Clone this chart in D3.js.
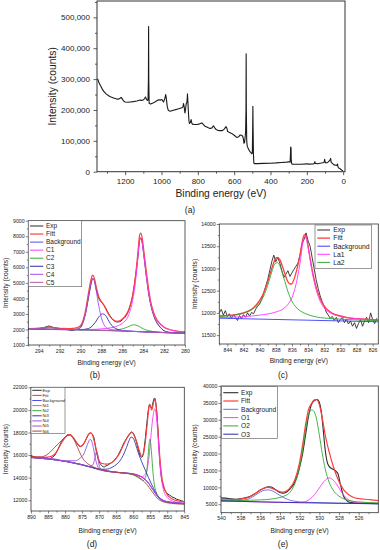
<!DOCTYPE html>
<html><head><meta charset="utf-8">
<script src="https://cdn.jsdelivr.net/npm/d3@7"></script>
<style>body{margin:0;background:#fff;}svg{display:block;}</style>
</head><body><svg id="c" width="380" height="550"></svg>
<script>
// ---------------- DATA ----------------
// (a) survey spectrum [binding energy eV, counts]
const surveyData = [[1352,301000],[1345,290000],[1337,280000],[1328,270000],[1319,261000],[1305,252000],[1291,246000],[1278,242000],[1264,239000],[1250,236000],[1236,235000],[1228,238000],[1222,241000],[1216,236000],[1209,229000],[1200,226000],[1186,225000],[1172,226000],[1155,227000],[1136,229000],[1117,232000],[1108,231000],[1099,233000],[1092,238000],[1088,242000],[1084,236000],[1078,231000],[1074,232000],[1072,300000],[1071,470000],[1070,300000],[1068,222000],[1060,219000],[1044,223000],[1030,228000],[1016,233000],[1005,232000],[998,234000],[989,226000],[982,236000],[977,250000],[974,240000],[968,210000],[962,198000],[952,196000],[935,199000],[916,202000],[900,205000],[888,207000],[882,210000],[879,221000],[875,210000],[871,190000],[868,200000],[864,220000],[860,225000],[857,252000],[855,230000],[852,195000],[849,165000],[846,156000],[841,160000],[837,169000],[833,158000],[830,154000],[818,153000],[806,153000],[790,155000],[778,158000],[770,153000],[760,147000],[745,143000],[733,140000],[722,142000],[714,149000],[708,143000],[700,137000],[690,134000],[678,133000],[665,133000],[655,138000],[645,146000],[640,141000],[636,130000],[625,127000],[614,124000],[600,118000],[586,111000],[575,113000],[568,119000],[560,118000],[553,115000],[549,105000],[546,92000],[543,95000],[540,110000],[537,130000],[535,200000],[534,382000],[533,200000],[531,100000],[528,82000],[520,72000],[513,65000],[508,62000],[504,58000],[500,60000],[498,150000],[497,212000],[496,150000],[494,60000],[492,30000],[490,26000],[470,26000],[440,27000],[400,27500],[370,28500],[340,30000],[311,31000],[300,32000],[292,31000],[290,60000],[289,80000],[288,50000],[287,78000],[286,40000],[284,27000],[280,24000],[260,24000],[230,24000],[200,25500],[190,24500],[165,25000],[158,27000],[156,33000],[154,27000],[140,26000],[120,28000],[105,30000],[102,40000],[100,33000],[95,28000],[85,30000],[78,34000],[72,38000],[69,43000],[66,30000],[60,27000],[50,22000],[40,21000],[34,20000],[31,25000],[29,16000],[25,12000],[18,10000],[12,7000],[8,5000],[4,4000],[1,3000]];
const aXTicks = [1200,1000,800,600,400,200,0];
const aXMinor = [1300,1100,900,700,500,300,100];
const aYTicks = [0,100000,200000,300000,400000,500000];
const aYMinor = [50000,150000,250000,350000,450000,550000];

// (b) C 1s
const bExp = [[295,2050],[294.5,2060],[294,2070],[293.5,2120],[293.25,2180],[293,2220],[292.75,2160],[292.5,2110],[292,2060],[291.5,2020],[291,1960],[290.75,1940],[290.5,2000],[290.25,2030],[290,2150],[289.75,2500],[289.5,3100],[289.25,4000],[289,4900],[288.85,5250],[288.7,5200],[288.5,4600],[288.25,4000],[288,3750],[287.75,3550],[287.5,3250],[287.25,2950],[287,2700],[286.75,2550],[286.5,2480],[286.25,2500],[286,2620],[285.75,2780],[285.5,3050],[285.25,3500],[285,4200],[284.75,5300],[284.5,6700],[284.35,7700],[284.25,7900],[284.1,7600],[284,7100],[283.75,5700],[283.5,4400],[283.25,3500],[283,2900],[282.75,2500],[282.5,2250],[282.25,2050],[282,1920],[281.5,1820],[281,1790],[280.5,1770],[280,1760]];
const bFit = [[295,2060],[294,2070],[293.5,2100],[293,2170],[292.5,2120],[292,2070],[291,2060],[290.5,2090],[290,2250],[289.75,2600],[289.5,3300],[289.25,4300],[289,5200],[288.85,5500],[288.7,5350],[288.5,4750],[288.25,4100],[288,3800],[287.75,3550],[287.5,3200],[287.25,2900],[287,2700],[286.75,2570],[286.5,2530],[286.25,2560],[286,2680],[285.75,2850],[285.5,3100],[285.25,3550],[285,4250],[284.75,5400],[284.5,7000],[284.35,8050],[284.25,8200],[284.1,7900],[284,7400],[283.75,6000],[283.5,4700],[283.25,3700],[283,3100],[282.75,2700],[282.5,2450],[282,2150],[281.5,2000],[281,1920],[280.5,1870],[280,1840]];
const bBg = [[295,2050],[291,1990],[288,1940],[285,1880],[282,1800],[280,1760]];
const bC1 = [[295,2060],[291,2000],[289,2000],[288,2040],[287,2120],[286.5,2220],[286,2400],[285.5,2780],[285.25,3200],[285,3900],[284.75,5000],[284.5,6700],[284.35,7750],[284.25,7850],[284.1,7600],[284,7100],[283.75,5700],[283.5,4450],[283.25,3550],[283,2980],[282.75,2620],[282.5,2400],[282,2130],[281.5,1990],[281,1910],[280.5,1860],[280,1830]];
const bC2 = [[295,2045],[290,1975],[288,1945],[287,1950],[286.5,1980],[286,2040],[285.5,2160],[285.2,2260],[284.9,2300],[284.6,2260],[284.3,2160],[284,2040],[283.5,1930],[283,1860],[282,1810],[280,1765]];
const bC3 = [[295,2040],[291,1985],[290,1985],[289.5,2020],[289,2150],[288.6,2450],[288.2,2850],[287.9,3000],[287.6,2900],[287.3,2550],[287,2250],[286.5,2020],[286,1930],[285.5,1890],[284,1850],[282,1800],[280,1755]];
const bC4 = [[295,2040],[291,1980],[290.5,2000],[290,2100],[289.75,2450],[289.5,3100],[289.25,4100],[289,5000],[288.85,5300],[288.7,5150],[288.5,4500],[288.25,3500],[288,2750],[287.75,2300],[287.5,2100],[287,1980],[286.5,1940],[285,1880],[282,1800],[280,1758]];
const bC5 = [[295,2055],[294.5,2055],[294,2070],[293.6,2100],[293.3,2140],[293,2140],[292.7,2100],[292.3,2050],[292,2020],[291,1995],[288,1945],[285,1875],[282,1795],[280,1755]];
const bXTicks = [294,292,290,288,286,284,282,280];
const bXMinor = [295,293,291,289,287,285,283,281];
const bYTicks = [1000,2000,3000,4000,5000,6000,7000,8000,9000];
const bYMinor = [1500,2500,3500,4500,5500,6500,7500,8500];

// (c) La 3d
const cExp = [[845,12000],[844.75,12080],[844.5,11950],[844.25,12050],[844,11920],[843.75,11980],[843.5,11880],[843.25,11960],[843,11900],[842.75,11830],[842.5,11940],[842.25,11870],[842,11960],[841.75,11900],[841.5,12000],[841.25,11930],[841,12010],[840.75,11980],[840.5,12080],[840.25,12150],[840,12200],[839.75,12300],[839.5,12450],[839.25,12600],[839,12750],[838.75,12950],[838.5,13150],[838.25,13300],[838,13150],[837.75,13250],[837.5,13120],[837.25,12950],[837,12800],[836.75,12870],[836.5,12950],[836.25,12820],[836,12900],[835.75,12980],[835.5,13050],[835.25,13120],[835,13300],[834.75,13550],[834.5,13650],[834.25,13800],[834,13620],[833.75,13500],[833.5,13250],[833.25,13000],[833,12750],[832.75,12550],[832.5,12380],[832.25,12250],[832,12150],[831.75,12020],[831.5,11950],[831.25,11880],[831,11920],[830.75,11830],[830.5,11900],[830.25,11780],[830,11850],[829.75,11900],[829.5,11780],[829.25,11860],[829,11750],[828.75,11820],[828.5,11700],[828.25,11780],[828,11650],[827.75,11760],[827.5,11850],[827.25,11700],[827,11820],[826.75,11900],[826.5,11780],[826.25,12000],[826,11850],[825.75,11760],[825.5,11880]];
const cFit = [[845,11930],[843,11960],[842,12000],[841,12080],[840,12280],[839.5,12450],[839,12700],[838.5,13000],[838,13230],[837.8,13250],[837.5,13200],[837,12950],[836.5,12700],[836.2,12650],[836,12660],[835.5,12900],[835,13300],[834.7,13620],[834.45,13760],[834.2,13700],[834,13500],[833.5,12980],[833,12580],[832.5,12320],[832,12150],[831,11990],[830,11930],[829,11890],[828,11870],[826,11850],[825.3,11840]];
const cBg = [[845,11880],[835,11840],[825.3,11800]];
const cLa1 = [[845,11895],[842,11915],[840,11950],[838,12020],[837,12100],[836.5,12190],[836,12340],[835.5,12640],[835,13120],[834.7,13520],[834.45,13720],[834.2,13650],[834,13470],[833.5,12920],[833,12520],[832.5,12260],[832,12110],[831,11980],[830,11920],[828,11870],[825.3,11835]];
const cLa2 = [[845,11920],[843,11950],[842,11990],[841,12070],[840,12230],[839.5,12380],[839,12620],[838.5,12920],[838.1,13110],[837.8,13130],[837.5,13060],[837,12780],[836.5,12480],[836,12260],[835.5,12130],[835,12050],[834,11960],[833,11910],[831,11870],[829,11850],[827,11835],[825.3,11825]];
const cXTicks = [844,842,840,838,836,834,832,830,828,826];
const cXMinor = [845,843,841,839,837,835,833,831,829,827];
const cYTicks = [11500,12000,12500,13000,13500,14000];
const cYMinor = [11750,12250,12750,13250,13750];

// (d) Ni 2p
const dExp = [[890,15950],[889.5,15900],[889,15850],[888.5,15780],[888,15750],[887.5,15800],[887,15700],[886.5,15720],[886,15680],[885.5,15750],[885,15700],[884.5,15650],[884,15780],[883.5,15850],[883,16000],[882.5,16250],[882,16550],[881.5,16900],[881,17200],[880.5,17450],[880,17600],[879.5,17750],[879,17820],[878.5,17800],[878,17700],[877.5,17500],[877,17250],[876.5,17000],[876,16850],[875.5,16750],[875,16800],[874.5,17000],[874,17300],[873.5,17600],[873,17850],[872.5,17950],[872,17850],[871.5,17500],[871,16600],[870.5,15900],[870,15400],[869.5,15150],[869,15000],[868.5,14950],[868,15050],[867.5,15100],[867,15200],[866.5,15300],[866,15400],[865.5,15550],[865,15750],[864.5,15950],[864,16250],[863.5,16550],[863,16900],[862.5,17200],[862,17450],[861.5,17700],[861,17900],[860.5,18050],[860,17950],[859.5,17600],[859,17100],[858.5,16500],[858,16000],[857.5,15800],[857,16200],[856.5,17300],[856,18800],[855.5,20100],[855.2,20450],[855,20350],[854.6,20150],[854.3,20500],[854,20900],[853.7,21050],[853.4,20700],[853,19500],[852.6,17500],[852.2,15500],[851.8,14200],[851.3,13400],[850.8,12950],[850.3,12700],[849.8,12550],[849.3,12450],[848.8,12350],[848.3,12250],[847.8,12200],[847.3,12100],[846.8,12050],[846.3,12000],[845.8,11950],[845.3,11900],[845,11800]];
const dFit = [[890,15900],[888,15800],[886,15800],[884,15900],[883,16100],[882,16550],[881,17100],[880,17550],[879,17800],[878.5,17820],[878,17700],[877,17300],[876,16900],[875.5,16780],[875,16850],[874,17300],[873.5,17650],[873,17900],[872.5,17980],[872,17800],[871.5,17300],[871,16700],[870.5,16100],[870,15500],[869.5,15300],[869,15250],[868,15200],[867,15250],[866,15400],[865,15700],[864,16150],[863,16800],[862,17400],[861,17850],[860.5,18000],[860,17900],[859,17200],[858,16200],[857.5,15900],[857,16100],[856.5,17000],[856,18400],[855.5,19900],[855.2,20500],[855,20450],[854.6,20000],[854.3,20200],[854,20700],[853.7,20950],[853.4,20600],[853,19400],[852.5,17200],[852,15200],[851.5,13900],[851,13200],[850,12500],[849,12200],[848,12050],[847,11950],[846,11900],[845,11850]];
const dBg = [[890,15800],[886,15750],[882,15550],[878,15350],[875,15150],[872,14900],[870,14700],[867,14550],[864,14450],[861,14380],[859,14250],[857.5,14050],[856,13700],[855,13300],[854,12850],[853,12400],[852,12100],[851,11950],[849,11820],[847,11760],[845,11700]];
const dNi1 = [[890,15790],[880,15450],[872,14900],[866,14520],[862,14380],[860,14300],[858.5,14150],[857.5,14100],[856.5,14300],[855.8,14900],[855.2,16300],[854.7,18000],[854.2,19400],[853.7,20100],[853.3,19700],[852.9,18400],[852.5,16600],[852,14700],[851.5,13500],[851,12800],[850,12250],[849,12000],[847,11820],[845,11750]];
const dNi2 = [[890,15790],[880,15450],[872,14900],[866,14520],[862,14380],[860,14250],[858.5,14000],[857.5,13800],[857,13750],[856.5,13950],[856,14600],[855.6,16000],[855.3,17100],[855.1,17400],[854.9,17150],[854.6,16100],[854.2,14500],[853.8,13400],[853.3,12750],[852.5,12200],[851,11900],[848,11760],[845,11700]];
const dNi3 = [[890,15790],[880,15450],[875,15150],[872,14900],[870,14750],[868,14750],[866,14950],[865,15150],[864,15450],[863,15950],[862,16650],[861.2,17300],[860.6,17600],[860,17500],[859.3,16950],[858.5,16200],[857.5,15400],[856.5,14700],[855.5,14000],[854.5,13350],[853.5,12750],[852.5,12300],[851.5,12050],[850,11850],[847,11750],[845,11700]];
const dNi4 = [[890,15780],[884,15700],[880,15500],[877,15500],[875.5,15750],[874.5,16100],[873.6,16800],[873,17250],[872.6,17400],[872.1,17150],[871.6,16500],[871.1,15700],[870.5,15050],[869.8,14750],[868.5,14600],[866,14500],[862,14400],[859,14250],[857.5,14050],[856,13700],[855,13300],[854,12850],[853,12400],[852,12100],[850,11880],[847,11760],[845,11700]];
const dNi5 = [[890,15790],[880,15450],[875,15150],[873,15000],[872,15100],[871.5,15400],[871.1,15950],[870.8,16300],[870.5,16100],[870.2,15450],[869.8,14900],[869.2,14700],[868,14600],[865,14450],[861,14380],[858,14150],[856,13700],[854,12850],[852,12100],[849,11820],[845,11700]];
const dNi6 = [[890,15850],[887,15850],[885,16100],[883,16700],[881,17300],[879.8,17650],[878.8,17750],[877.8,17550],[876.8,17000],[875.8,16300],[874.8,15700],[873.8,15350],[872,15000],[870,14750],[867,14550],[864,14450],[861,14350],[859,14150],[857.5,13850],[856,13400],[854.5,12800],[853,12200],[851,11850],[848,11700],[845,11650]];
const dXTicks = [890,885,880,875,870,865,860,855,850,845];
const dXMinor = [887.5,882.5,877.5,872.5,867.5,862.5,857.5,852.5,847.5];
const dYTicks = [12000,14000,16000,18000,20000,22000];
const dYMinor = [13000,15000,17000,19000,21000];

// (e) O 1s
const eExp = [[540,6900],[539.5,6800],[539,6600],[538.5,6500],[538,6600],[537.5,6900],[537,7400],[536.5,8200],[536,9200],[535.5,9900],[535.2,10200],[534.9,10100],[534.5,9400],[534,8500],[533.7,8300],[533.4,8500],[533,9500],[532.5,11500],[532,16000],[531.7,20000],[531.4,25500],[531.1,31000],[530.8,34500],[530.5,35700],[530.2,36000],[530,35200],[529.8,32500],[529.6,27000],[529.4,21000],[529.2,17500],[529,16200],[528.7,15500],[528.4,15000],[528.1,14000],[527.9,11500],[527.7,9000],[527.5,7200],[527.2,6100],[527,5700],[526.5,5400],[526,5300],[525,5250],[524,5200]];
const eFit = [[540,6300],[539,6300],[538,6500],[537,7300],[536.5,8200],[536,9200],[535.5,9900],[535.2,10000],[535,9900],[534.5,9300],[534,8700],[533.7,8600],[533.3,9000],[533,9800],[532.5,12200],[532,17500],[531.7,22500],[531.4,28500],[531.1,33000],[530.8,34800],[530.5,35900],[530.3,36000],[530,34500],[529.7,30500],[529.4,25500],[529,20500],[528.5,15500],[528,11700],[527.5,9200],[527,7800],[526.5,7000],[526,6700],[525,6400],[524,6100]];
const eBg = [[540,6200],[539,6050],[538,6150],[537,6800],[536.5,7700],[536,8600],[535.6,9150],[535.2,9250],[534.9,9100],[534.5,8500],[534,7600],[533.5,6800],[533,6200],[532.5,5900],[532,5700],[531,5550],[530,5450],[528,5300],[526,5200],[524,5150]];
const eO1 = [[540,5950],[536,5700],[533,5550],[532,5550],[531.5,5700],[531,6400],[530.5,7800],[530,9800],[529.5,11800],[529,12800],[528.5,11900],[528,9800],[527.5,7600],[527,6300],[526.5,5700],[526,5450],[525,5300],[524,5200]];
const eO2 = [[540,6000],[538,6100],[536,6300],[535,6500],[534,7000],[533.5,7500],[533,8500],[532.5,11000],[532,16000],[531.7,21000],[531.4,27000],[531.1,31500],[530.8,32900],[530.6,32700],[530.3,30500],[530,25500],[529.7,20000],[529.4,15500],[529,11500],[528.5,8800],[528,7400],[527.5,6600],[527,6100],[526,5700],[525,5500],[524,5400]];
const eO3 = [[540,6000],[536,5700],[532,5450],[528,5300],[524,5150]];
const eXTicks = [540,538,536,534,532,530,528,526];
const eXMinor = [539,537,535,533,531,529,527,525];
const eYTicks = [5000,10000,15000,20000,25000,30000,35000,40000];
const eYMinor = [7500,12500,17500,22500,27500,32500,37500];

// ---------------- DRAWING ----------------
const FONT = "'Liberation Sans', Arial, Helvetica, sans-serif";
const svg = d3.select("#c");
const COL = {exp:"#2b2b2b", fit:"#ff3d3d", bg:"#4f4ff5", mag:"#ff38ff", grn:"#33aa33", navy:"#2a2aa5", vio:"#a44cf5", c5:"#b857a8", ni4:"#9a52d8", ni5:"#b044d8", ni6:"#a84646", bgE:"#6868ee"};

function drawPanel(p){
  const x = d3.scaleLinear().domain(p.xDomain).range([p.l, p.r]);
  const y = d3.scaleLinear().domain(p.yDomain).range([p.b, p.t]);
  const g = svg.append("g");
  const cid = "clip-" + p.id;
  g.append("clipPath").attr("id", cid).append("rect")
    .attr("x", p.l).attr("y", p.t).attr("width", p.r - p.l).attr("height", p.b - p.t);
  const style = s => {
    s.select(".domain").remove();
    s.selectAll(".tick line").attr("stroke", "#333").attr("stroke-width", p.tw);
    s.selectAll(".tick text").attr("fill", "#222").attr("font-size", p.tickFs).attr("font-family", FONT);
  };
  g.append("g").attr("transform", `translate(0,${p.b})`)
    .call(d3.axisBottom(x).tickValues(p.xMinor).tickSize(p.minLen).tickFormat("")).call(style);
  g.append("g").attr("transform", `translate(0,${p.b})`)
    .call(d3.axisBottom(x).tickValues(p.xTicks).tickSize(p.majLen).tickPadding(p.xPad).tickFormat(d3.format("d"))).call(style);
  g.append("g").attr("transform", `translate(${p.l},0)`)
    .call(d3.axisLeft(y).tickValues(p.yMinor).tickSize(p.minLen).tickFormat("")).call(style);
  g.append("g").attr("transform", `translate(${p.l},0)`)
    .call(d3.axisLeft(y).tickValues(p.yTicks).tickSize(p.majLen).tickPadding(p.yPad).tickFormat(p.yFmt)).call(style);

  p.series.forEach(s => {
    g.append("path").datum(s.data).attr("clip-path", `url(#${cid})`)
      .attr("fill", "none").attr("stroke", s.color).attr("stroke-width", s.w)
      .attr("stroke-linejoin", "round")
      .attr("d", d3.line().x(d => x(d[0])).y(d => y(d[1])).curve(s.curve || d3.curveMonotoneX));
  });

  g.append("rect").attr("x", p.l).attr("y", p.t).attr("width", p.r - p.l).attr("height", p.b - p.t)
    .attr("fill", "none").attr("stroke", "#333").attr("stroke-width", p.fw);

  g.append("text").attr("x", (p.l + p.r) / 2).attr("y", p.xTitleY).attr("text-anchor", "middle")
    .attr("font-family", FONT).attr("font-size", p.titleFs).attr("fill", "#222").text("Binding energy (eV)");
  g.append("text").attr("transform", `translate(${p.yTitleX},${(p.t + p.b) / 2}) rotate(-90)`)
    .attr("text-anchor", "middle").attr("dy", "0.35em")
    .attr("font-family", FONT).attr("font-size", p.titleFs).attr("fill", "#222").text("Intensity (counts)");
  svg.append("text").attr("x", p.labX).attr("y", p.labY).attr("text-anchor", "middle")
    .attr("font-family", FONT).attr("font-size", 8.5).attr("fill", "#222").text(p.label);

  if (p.legend) {
    const L = p.legend;
    const lg = svg.append("g");
    lg.append("rect").attr("x", L.x0).attr("y", L.y0).attr("width", L.x1 - L.x0).attr("height", L.y1 - L.y0)
      .attr("fill", "#fff").attr("stroke", "#555").attr("stroke-width", 0.6);
    p.series.forEach((s, i) => {
      const yy = L.row0 + i * L.dy;
      lg.append("line").attr("x1", L.lx0).attr("x2", L.lx1).attr("y1", yy).attr("y2", yy)
        .attr("stroke", s.color).attr("stroke-width", Math.max(1, s.w));
      lg.append("text").attr("x", L.tx).attr("y", yy).attr("dy", "0.35em")
        .attr("font-family", FONT).attr("font-size", L.fs).attr("fill", "#222").text(s.name);
    });
  }
}

const smallBase = {tw:0.6, fw:0.8, majLen:2.5, minLen:1.5, xPad:1.5, yPad:1.2, tickFs:5.2, titleFs:6.6, yFmt:d3.format("d")};

drawPanel({id:"a", l:97, r:345, t:1, b:171.7, xDomain:[1355,-10], yDomain:[0,553000],
  xTicks:aXTicks, xMinor:aXMinor, yTicks:aYTicks, yMinor:aYMinor,
  tw:0.8, fw:1, majLen:3.5, minLen:2, xPad:3, yPad:3.5, tickFs:8, titleFs:10.3, yFmt:d3.format(","),
  xTitleY:196.5, yTitleX:52, label:"(a)", labX:190, labY:213,
  series:[{name:"Survey", data:surveyData, color:"#1a1a1a", w:1.1, curve:d3.curveLinear}]});

drawPanel(Object.assign({}, smallBase, {id:"b", l:28.3, r:185, t:220.7, b:345, xDomain:[295,280], yDomain:[1000,9000],
  xTicks:bXTicks, xMinor:bXMinor, yTicks:bYTicks, yMinor:bYMinor,
  xTitleY:364.5, yTitleX:6, label:"(b)", labX:95, labY:378,
  series:[
    {name:"Exp", data:bExp, color:COL.exp, w:1},
    {name:"Fitt", data:bFit, color:COL.fit, w:1.2},
    {name:"Background", data:bBg, color:COL.bg, w:0.9},
    {name:"C1", data:bC1, color:COL.mag, w:0.9},
    {name:"C2", data:bC2, color:COL.grn, w:0.9},
    {name:"C3", data:bC3, color:COL.navy, w:0.9},
    {name:"C4", data:bC4, color:COL.vio, w:0.9},
    {name:"C5", data:bC5, color:COL.c5, w:0.9}],
  legend:{x0:28.3, x1:81.7, y0:220.7, y1:286.7, row0:226, dy:8.05, lx0:30, lx1:43.3, tx:46, fs:6.5}}));

drawPanel(Object.assign({}, smallBase, {id:"c", l:219.3, r:378.3, t:224, b:344, xDomain:[845,825.3], yDomain:[11300,14000],
  xTicks:cXTicks, xMinor:cXMinor, yTicks:cYTicks, yMinor:cYMinor,
  xTitleY:362.5, yTitleX:195, label:"(c)", labX:283, labY:378,
  series:[
    {name:"Exp", data:cExp, color:COL.exp, w:0.9, curve:d3.curveLinear},
    {name:"Fitt", data:cFit, color:COL.fit, w:1.3},
    {name:"Background", data:cBg, color:"#3c3cff", w:0.9},
    {name:"La1", data:cLa1, color:COL.mag, w:0.9},
    {name:"La2", data:cLa2, color:COL.grn, w:0.9}],
  legend:{x0:315, x1:371.7, y0:225, y1:268.3, row0:230, dy:8.1, lx0:317.3, lx1:330, tx:333.3, fs:6.8}}));

drawPanel(Object.assign({}, smallBase, {id:"d", l:31, r:184.3, t:387.3, b:511, xDomain:[890,845], yDomain:[11050,22000],
  xTicks:dXTicks, xMinor:dXMinor, yTicks:dYTicks, yMinor:dYMinor,
  xTitleY:532.5, yTitleX:6, label:"(d)", labX:92, labY:546.5,
  series:[
    {name:"Exp", data:dExp, color:COL.exp, w:1},
    {name:"Fitt", data:dFit, color:COL.fit, w:1.1},
    {name:"Background", data:dBg, color:COL.bg, w:0.9},
    {name:"Ni1", data:dNi1, color:COL.mag, w:0.9},
    {name:"Ni2", data:dNi2, color:COL.grn, w:0.9},
    {name:"Ni3", data:dNi3, color:"#3535b8", w:0.9},
    {name:"Ni4", data:dNi4, color:COL.ni4, w:0.9},
    {name:"Ni5", data:dNi5, color:COL.ni5, w:0.9},
    {name:"Ni6", data:dNi6, color:COL.ni6, w:0.9}],
  legend:{x0:31, x1:65, y0:387.3, y1:433.5, row0:390.3, dy:5.1, lx0:32.3, lx1:41.7, tx:42.5, fs:4.2}}));

drawPanel(Object.assign({}, smallBase, {id:"e", l:221, r:378.3, t:386, b:512.7, xDomain:[540,524], yDomain:[2500,40000],
  xTicks:eXTicks, xMinor:eXMinor, yTicks:eYTicks, yMinor:eYMinor,
  xTitleY:532.5, yTitleX:195, label:"(e)", labX:283, labY:546.5,
  series:[
    {name:"Exp", data:eExp, color:COL.exp, w:1.1},
    {name:"Fitt", data:eFit, color:COL.fit, w:1.2},
    {name:"Background", data:eBg, color:COL.bgE, w:0.9},
    {name:"O1", data:eO1, color:COL.mag, w:0.9},
    {name:"O2", data:eO2, color:COL.grn, w:0.9},
    {name:"O3", data:eO3, color:COL.navy, w:0.9}],
  legend:{x0:221.7, x1:277.3, y0:386.7, y1:438.3, row0:392.7, dy:8.3, lx0:223.3, lx1:238.3, tx:241, fs:6.6}}));
</script></body></html>
